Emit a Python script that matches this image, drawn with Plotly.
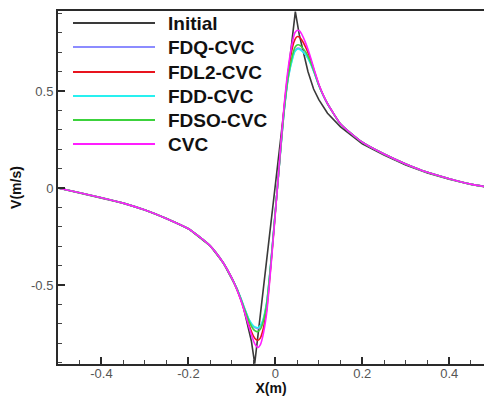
import plotly.graph_objects as go

# ---------------- data ----------------
x_initial = [-0.5, -0.45, -0.4, -0.35, -0.3, -0.25, -0.2, -0.15, -0.12, -0.1, -0.088, -0.075,
             -0.065, -0.055, -0.0475, 0.046, 0.055, 0.065, 0.075, 0.088, 0.1, 0.12, 0.15,
             0.2, 0.25, 0.3, 0.35, 0.4, 0.45, 0.5]
v_initial = [0.0, -0.025, -0.05, -0.078, -0.114, -0.157, -0.21, -0.298, -0.385, -0.468, -0.52, -0.6,
             -0.69, -0.79, -0.905, 0.909, 0.79, 0.686, 0.6, 0.51, 0.455, 0.385, 0.315,
             0.228, 0.17, 0.118, 0.077, 0.045, 0.018, 0.0]

x_num = [-0.5, -0.45, -0.4, -0.35, -0.3, -0.25, -0.2, -0.15, -0.12, -0.1,
         -0.09, -0.08, -0.07, -0.06, -0.05, -0.045, -0.04, -0.035, -0.03, -0.02,
         -0.01, 0.0, 0.01, 0.02, 0.03, 0.04, 0.045, 0.05, 0.055, 0.06,
         0.07, 0.08, 0.09, 0.1, 0.11, 0.12, 0.13, 0.15, 0.2, 0.25,
         0.3, 0.35, 0.4, 0.45, 0.5]

v_fdq = [0.0, -0.025, -0.05, -0.078, -0.114, -0.158, -0.21, -0.298, -0.385, -0.465,
         -0.512, -0.565, -0.625, -0.682, -0.716, -0.722, -0.725, -0.714, -0.694, -0.593,
         -0.377, -0.119, 0.139, 0.392, 0.573, 0.675, 0.708, 0.72, 0.72, 0.712,
         0.688, 0.648, 0.592, 0.53, 0.478, 0.434, 0.397, 0.33, 0.236, 0.175,
         0.124, 0.081, 0.048, 0.02, 0.0]

v_fdl2 = [0.0, -0.025, -0.05, -0.078, -0.114, -0.158, -0.21, -0.298, -0.385, -0.465,
          -0.515, -0.572, -0.64, -0.71, -0.765, -0.78, -0.785, -0.775, -0.745, -0.625,
          -0.39, -0.125, 0.145, 0.41, 0.605, 0.73, 0.765, 0.78, 0.778, 0.765,
          0.725, 0.67, 0.6, 0.532, 0.479, 0.435, 0.398, 0.33, 0.236, 0.175,
          0.124, 0.081, 0.048, 0.02, 0.0]

v_fdd = [0.0, -0.025, -0.05, -0.078, -0.114, -0.158, -0.21, -0.298, -0.385, -0.465,
         -0.512, -0.565, -0.625, -0.68, -0.712, -0.718, -0.72, -0.71, -0.69, -0.59,
         -0.375, -0.118, 0.138, 0.39, 0.57, 0.67, 0.703, 0.715, 0.715, 0.708,
         0.685, 0.645, 0.59, 0.528, 0.477, 0.434, 0.397, 0.33, 0.236, 0.175,
         0.124, 0.081, 0.048, 0.02, 0.0]

v_fdso = [0.0, -0.025, -0.05, -0.078, -0.114, -0.158, -0.21, -0.298, -0.385, -0.465,
          -0.513, -0.568, -0.63, -0.69, -0.73, -0.738, -0.74, -0.73, -0.705, -0.6,
          -0.38, -0.12, 0.14, 0.395, 0.58, 0.69, 0.725, 0.737, 0.737, 0.728,
          0.7, 0.655, 0.595, 0.53, 0.478, 0.434, 0.397, 0.33, 0.236, 0.175,
          0.124, 0.081, 0.048, 0.02, 0.0]

v_cvc = [0.0, -0.025, -0.05, -0.078, -0.114, -0.158, -0.21, -0.298, -0.385, -0.465,
         -0.515, -0.575, -0.645, -0.72, -0.79, -0.812, -0.822, -0.81, -0.775, -0.645,
         -0.4, -0.13, 0.15, 0.42, 0.625, 0.76, 0.8, 0.812, 0.81, 0.795,
         0.745, 0.68, 0.605, 0.535, 0.48, 0.435, 0.398, 0.33, 0.236, 0.175,
         0.124, 0.081, 0.048, 0.02, 0.0]

series_names = ["Initial", "FDQ-CVC", "FDL2-CVC", "FDD-CVC", "FDSO-CVC", "CVC"]
x_ticks = [-0.4, -0.2, 0, 0.2, 0.4]
x_tick_labels = ["-0.4", "-0.2", "0", "0.2", "0.4"]
y_ticks = [-0.5, 0, 0.5]
y_tick_labels = ["-0.5", "0", "0.5"]

# ---------------- figure ----------------
W, H = 484, 396
ML, MR, MT, MB = 58, 0, 11, 32
FONT = "Liberation Sans, Arial, sans-serif"

colors = ["#3a3a3a", "#8c8cff", "#e8141e", "#28f0f0", "#3cd23c", "#ff1eff"]
xs = [x_initial, x_num, x_num, x_num, x_num, x_num]
vs = [v_initial, v_fdq, v_fdl2, v_fdd, v_fdso, v_cvc]

fig = go.Figure()
for i, (name, xx, vv, c) in enumerate(zip(series_names, xs, vs, colors)):
    shape = "linear" if i == 0 else "spline"
    fig.add_trace(go.Scatter(x=xx, y=vv, mode="lines", name=name,
                             line=dict(color=c, width=1.6, shape=shape, smoothing=0.6),
                             showlegend=False))

# manual legend (long line samples like the reference)
pw = W - ML - MR
ph = H - MT - MB
def px_x(p):
    return (p - ML) / pw
def px_y(p):
    return (H - MB - p) / ph

row_y = [23, 47, 72, 96, 120, 144]
for name, c, ry in zip(series_names, colors, row_y):
    fig.add_shape(type="line", xref="paper", yref="paper",
                  x0=px_x(73), x1=px_x(155), y0=px_y(ry), y1=px_y(ry),
                  line=dict(color=c, width=2.2))
    fig.add_annotation(xref="paper", yref="paper", x=px_x(166), y=px_y(ry),
                       text="<b>%s</b>" % name, showarrow=False,
                       xanchor="left", yanchor="middle",
                       font=dict(family=FONT, size=19, color="#111111"))

fig.update_layout(
    width=W, height=H,
    margin=dict(l=ML, r=MR, t=MT, b=MB, pad=0, autoexpand=False),
    paper_bgcolor="white", plot_bgcolor="white",
    font=dict(family=FONT),
)
fig.update_xaxes(
    range=[-0.5, 0.48], showgrid=False, zeroline=False, automargin=False,
    showline=True, linecolor="#2a2a2a", linewidth=2, mirror=True,
    tickmode="array", tickvals=x_ticks, ticktext=x_tick_labels,
    ticks="inside", ticklen=7, tickwidth=2, tickcolor="#2a2a2a",
    ticklabelstandoff=-4,
    minor=dict(tickmode="linear", tick0=0, dtick=0.05, ticks="inside",
               ticklen=4, tickwidth=1, tickcolor="#444444"),
    tickfont=dict(family=FONT, size=13, color="#555555"),
    title=dict(text="<b>X(m)</b>", font=dict(family=FONT, size=14, color="#111111"),
               standoff=4),
)
fig.update_yaxes(
    range=[-0.907, 0.912], showgrid=False, zeroline=False, automargin=False,
    showline=True, linecolor="#2a2a2a", linewidth=2, mirror=False,
    tickmode="array", tickvals=y_ticks, ticktext=y_tick_labels,
    ticks="inside", ticklen=7, tickwidth=2, tickcolor="#2a2a2a",
    minor=dict(tickmode="linear", tick0=0, dtick=0.1, ticks="inside",
               ticklen=4, tickwidth=1, tickcolor="#444444"),
    tickfont=dict(family=FONT, size=13, color="#555555"),
    title=dict(text="<b>V(m/s)</b>", font=dict(family=FONT, size=14, color="#111111"),
               standoff=6),
)

fig.write_html("out.html",
               config={"displayModeBar": False},
               post_script="document.body.style.margin='0';document.body.style.padding='0';")
